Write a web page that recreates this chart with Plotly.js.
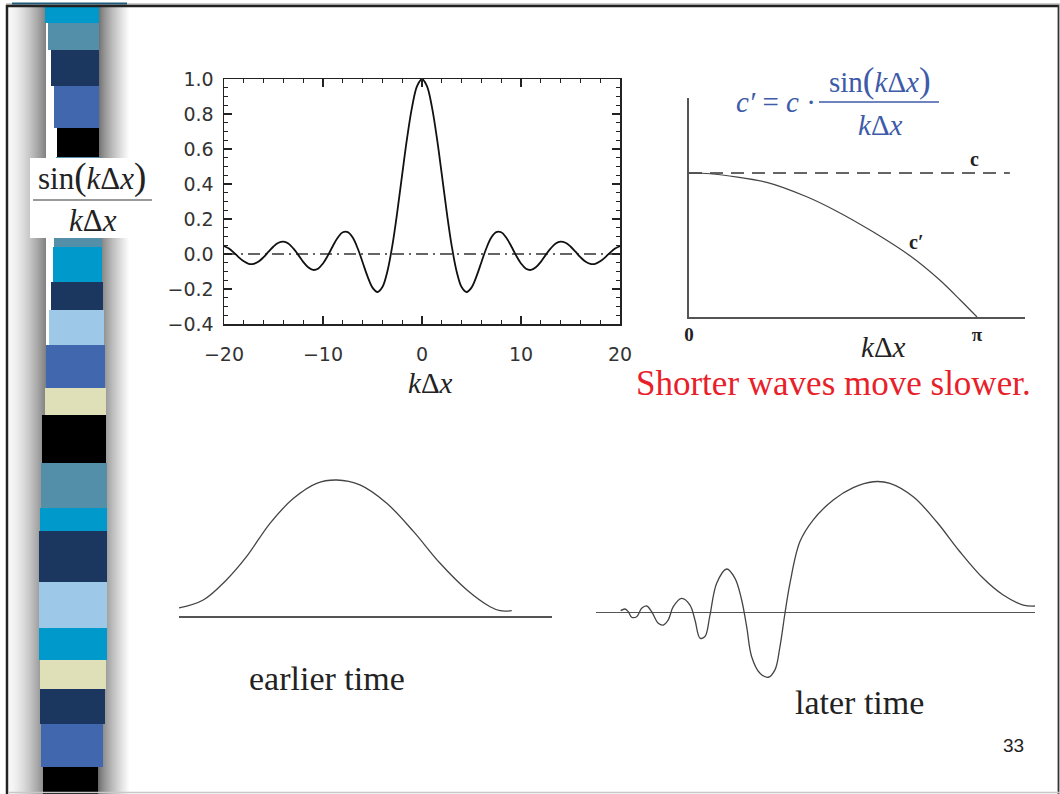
<!DOCTYPE html>
<html><head><meta charset="utf-8">
<script src="https://cdn.plot.ly/plotly-3.0.1.min.js"></script>
<style>html,body{margin:0;padding:0;background:#fff;}#chart{width:1060px;height:794px;}</style>
</head><body><div id="chart"></div>
<script>
// ---------- data: sinc panel ----------
const kDx = [-20,-19.5,-19,-18.5,-18,-17.5,-17,-16.5,-16,-15.5,-15,-14.5,-14,-13.5,-13,-12.5,-12,-11.5,-11,-10.5,-10,-9.5,-9,-8.5,-8,-7.5,-7,-6.5,-6,-5.5,-5,-4.5,-4,-3.5,-3,-2.5,-2,-1.5,-1,-0.5,0,0.5,1,1.5,2,2.5,3,3.5,4,4.5,5,5.5,6,6.5,7,7.5,8,8.5,9,9.5,10,10.5,11,11.5,12,12.5,13,13.5,14,14.5,15,15.5,16,16.5,17,17.5,18,18.5,19,19.5,20];
const sincVal = [0.046,0.031,0.008,-0.019,-0.042,-0.056,-0.056,-0.043,-0.018,0.013,0.043,0.064,0.071,0.060,0.032,-0.005,-0.045,-0.076,-0.091,-0.084,-0.054,-0.008,0.046,0.094,0.124,0.125,0.094,0.033,-0.047,-0.128,-0.192,-0.217,-0.189,-0.100,0.047,0.239,0.455,0.665,0.841,0.959,1.000,0.959,0.841,0.665,0.455,0.239,0.047,-0.100,-0.189,-0.217,-0.192,-0.128,-0.047,0.033,0.094,0.125,0.124,0.094,0.046,-0.008,-0.054,-0.084,-0.091,-0.076,-0.045,-0.005,0.032,0.060,0.071,0.064,0.043,0.013,-0.018,-0.043,-0.056,-0.056,-0.042,-0.019,0.008,0.031,0.046];
const zeroRefK = [-20, 20];
const zeroRefVal = [0, 0];
const sincXTicks = [-20, -10, 0, 10, 20];
const sincYTicks = [-0.4, -0.2, 0.0, 0.2, 0.4, 0.6, 0.8, 1.0];
const sincYTickText = ['\u22120.4', '\u22120.2', '0.0', '0.2', '0.4', '0.6', '0.8', '1.0'];

// ---------- data: phase speed panel ----------
const cPrimeK = [0, 0.229, 0.848, 1.284, 1.611, 2.011, 2.411, 2.738, 2.956, 3.1416];
const cPrimeVal = [1.0, 0.995, 0.935, 0.835, 0.735, 0.590, 0.425, 0.255, 0.120, 0.0];
const cK = [0, 3.50];
const cVal = [1, 1];
const phaseTickVals = [0, 3.1416];
const phaseTickText = ['<b>0</b>', '<b>\u03c0</b>'];

// ---------- data: wave packets ----------
const earlyX = [0.0, 0.65, 1.27, 1.81, 2.44, 3.07, 3.69, 4.23, 4.85, 5.57, 6.29, 7.00, 7.72, 8.34, 8.61, 8.92];
const earlyY = [0.066, 0.124, 0.270, 0.440, 0.684, 0.866, 0.976, 1.000, 0.964, 0.830, 0.623, 0.392, 0.197, 0.075, 0.046, 0.046];
const lateX = [0.670,0.786,0.874,0.965,1.099,1.233,1.367,1.501,1.678,1.812,1.946,2.080,2.306,2.528,2.662,2.796,2.930,3.064,3.244,3.512,3.735,3.914,4.048,4.182,4.405,4.627,4.807,4.941,5.075,5.209,5.477,5.834,6.370,6.906,7.442,7.890,8.515,9.142,9.767,10.391,10.928,11.464,11.778];
const lateY = [0.012,0.024,0.004,-0.036,-0.032,0.029,0.046,0.004,-0.080,-0.093,-0.056,0.041,0.102,0.053,-0.056,-0.188,-0.177,-0.020,0.212,0.316,0.248,0.090,-0.105,-0.324,-0.445,-0.474,-0.420,-0.250,-0.007,0.212,0.516,0.675,0.820,0.910,0.953,0.941,0.843,0.661,0.442,0.248,0.126,0.053,0.046];

// ---------- slide decoration (left stripe) ----------
const stripeTop    = [7, 23, 50, 86, 128, 157, 238, 247, 282, 310, 345, 388, 415, 463, 508, 531, 582, 628, 660, 689, 724, 767];
const stripeBottom = [23, 50, 86, 128, 157, 238, 247, 282, 310, 345, 388, 415, 463, 508, 531, 582, 628, 660, 689, 724, 767, 794];
const stripeLeft   = [45, 48, 51, 54, 57, 56, 54, 53, 51, 49, 46, 45, 42, 41, 40, 39, 39, 39, 40, 40, 41, 43];
const stripeRight  = [99, 99, 99, 99, 99, 101, 102, 102, 103, 104, 105, 106, 106, 107, 107, 107, 107, 107, 106, 105, 103, 98];
const stripeColor  = ['#0099cc','#548faa','#1b365f','#4167af','#000000','#548faa','#548faa','#0099cc','#1b365f','#9ec8e8','#4167af','#dfe0b8','#000000','#548faa','#0099cc','#1b365f','#9ec8e8','#0099cc','#dfe0b8','#1b365f','#4167af','#000000'];

const W = 1060, H = 794;
const px = x => x / W;
const py = y => 1 - y / H;

const serif = 'Liberation Serif, Times New Roman, serif';
const blue = '#3d5ba9';

const shapes = [];
// shadow gradient around stripe
for (let x = 9; x < 46; x++) {
  const t = (x - 9) / 36;
  const v = Math.round(247 - (247 - 130) * Math.pow(t, 1.5));
  shapes.push({type:'rect', xref:'paper', yref:'paper', x0:px(x), x1:px(x+1), y0:0, y1:py(7),
    fillcolor:`rgb(${v},${v},${v})`, line:{width:0}, layer:'below'});
}
for (let x = 98; x < 130; x++) {
  const t = (x - 98) / 31;
  const v = Math.min(255, Math.round(105 + (255 - 105) * Math.pow(t, 0.75)));
  shapes.push({type:'rect', xref:'paper', yref:'paper', x0:px(x), x1:px(x+1), y0:0, y1:py(7),
    fillcolor:`rgb(${v},${v},${v})`, line:{width:0}, layer:'below'});
}
for (let i = 0; i < stripeTop.length; i++) {
  shapes.push({type:'rect', xref:'paper', yref:'paper', x0:px(stripeLeft[i]), x1:px(stripeRight[i]),
    y0:py(stripeBottom[i]), y1:py(stripeTop[i]), fillcolor:stripeColor[i], line:{width:0}, layer:'below'});
}
// label box
shapes.push({type:'rect', xref:'paper', yref:'paper', x0:px(30), x1:px(152), y0:py(238), y1:py(158),
  fillcolor:'#ffffff', line:{width:0}, layer:'below'});
shapes.push({type:'line', xref:'paper', yref:'paper', x0:px(33), x1:px(152), y0:py(200), y1:py(200),
  line:{color:'#777', width:1.5}});
// formula fraction bar
shapes.push({type:'line', xref:'paper', yref:'paper', x0:px(819), x1:px(939), y0:py(102), y1:py(102),
  line:{color:blue, width:1.5}});
// slide frame
shapes.push({type:'line', xref:'paper', yref:'paper', x0:px(6), x1:px(1060), y0:py(4), y1:py(4), line:{color:'#999', width:1}});
shapes.push({type:'line', xref:'paper', yref:'paper', x0:px(12), x1:px(127), y0:py(3.5), y1:py(3.5), line:{color:'#1e5a78', width:2}});
shapes.push({type:'line', xref:'paper', yref:'paper', x0:px(6), x1:px(1059), y0:py(6), y1:py(6), line:{color:'#222', width:2.5}});
shapes.push({type:'line', xref:'paper', yref:'paper', x0:px(7), x1:px(7), y0:0, y1:py(5), line:{color:'#222', width:2.5}});
shapes.push({type:'line', xref:'paper', yref:'paper', x0:px(1058.5), x1:px(1058.5), y0:0, y1:py(5), line:{color:'#333', width:1.8}});
shapes.push({type:'line', xref:'paper', yref:'paper', x0:px(8), x1:px(1060), y0:py(792.5), y1:py(792.5), line:{color:'#c8c8c8', width:1.5}});

const ann = (text, x, y, size, color, family, extra) => Object.assign({
  text, xref:'paper', yref:'paper', x:px(x), y:py(y), xanchor:'center', yanchor:'middle',
  showarrow:false, font:{family: family || serif, size, color: color || '#222'}
}, extra || {});

const kdx = '<i>k</i>\u0394<i>x</i>';
const annotations = [
  ann('sin<span style="font-size:37px">(</span>' + kdx + '<span style="font-size:37px">)</span>', 92, 177, 31, '#222'),
  ann(kdx, 93, 220, 31, '#222'),
  ann(kdx, 430, 383, 29, '#222'),
  ann('<i>c\u2032</i> = <i>c</i> \u00b7', 776, 102, 29, blue),
  ann('sin<span style="font-size:35px">(</span>' + kdx + '<span style="font-size:35px">)</span>', 880, 80, 29, blue),
  ann(kdx, 880, 125, 29, blue),
  ann('<b>c</b>', 974, 159, 20, '#222'),
  ann('<b>c\u2032</b>', 916, 242, 20, '#222'),
  ann(kdx, 883, 347, 29, '#222'),
  ann('Shorter waves move slower.', 833, 383, 35, '#e8202a'),
  ann('earlier time', 327, 678, 34, '#222'),
  ann('later time', 859, 702, 34, '#222'),
  ann('33', 1013, 745, 19, '#222', 'Liberation Sans, Arial, sans-serif')
];

const traces = [
  {x:zeroRefK, y:zeroRefVal, xaxis:'x', yaxis:'y', mode:'lines', line:{color:'#333', width:1.3, dash:'12px,5px,2px,5px'}, hoverinfo:'skip'},
  {x:kDx, y:sincVal, xaxis:'x', yaxis:'y', mode:'lines', line:{color:'#111', width:1.8, shape:'spline', smoothing:1}},
  {x:cK, y:cVal, xaxis:'x2', yaxis:'y2', mode:'lines', line:{color:'#333', width:1.5, dash:'13px,8px'}},
  {x:cPrimeK, y:cPrimeVal, xaxis:'x2', yaxis:'y2', mode:'lines', line:{color:'#444', width:1.2, shape:'spline', smoothing:0.8}},
  {x:earlyX, y:earlyY, xaxis:'x3', yaxis:'y3', mode:'lines', line:{color:'#444', width:1.3, shape:'spline', smoothing:1}},
  {x:lateX, y:lateY, xaxis:'x4', yaxis:'y4', mode:'lines', line:{color:'#444', width:1.3, shape:'spline', smoothing:1}}
];

const tickFont = {family:'DejaVu Sans, sans-serif', size:19, color:'#333'};
const hidden = {showgrid:false, zeroline:false, showline:false, showticklabels:false, ticks:''};

const layout = {
  width:W, height:H, margin:{l:0, r:0, t:0, b:0},
  paper_bgcolor:'#ffffff', plot_bgcolor:'rgba(0,0,0,0)', showlegend:false,
  xaxis: {domain:[px(224), px(620)], range:[-20, 20], anchor:'y',
    tickmode:'array', tickvals:sincXTicks, ticks:'inside', ticklen:8, tickwidth:1.2, tickcolor:'#222',
    minor:{ticks:'inside', ticklen:4, dtick:2, tickcolor:'#222', tickwidth:1},
    showline:true, linecolor:'#222', linewidth:1.5, mirror:'ticks', showgrid:false, zeroline:false,
    tickfont:tickFont, ticklabelstandoff:13},
  yaxis: {domain:[py(324), py(79)], range:[-0.4, 1.0], anchor:'x',
    tickmode:'array', tickvals:sincYTicks, ticktext:sincYTickText, ticks:'inside', ticklen:8, tickwidth:1.2, tickcolor:'#222',
    minor:{ticks:'inside', ticklen:4, dtick:0.05, tickcolor:'#222', tickwidth:1},
    showline:true, linecolor:'#222', linewidth:1.5, mirror:'ticks', showgrid:false, zeroline:false,
    tickfont:tickFont, ticklabelstandoff:5},
  xaxis2: {domain:[px(689), px(1025)], range:[0, 3.665], anchor:'y2',
    tickmode:'array', tickvals:phaseTickVals, ticktext:phaseTickText, ticks:'',
    showline:true, linecolor:'#555', linewidth:1.6, showgrid:false, zeroline:false,
    tickfont:{family:serif, size:19, color:'#222'}, ticklabelstandoff:0},
  yaxis2: {domain:[py(317), py(98)], range:[0, 1.521], anchor:'x2',
    showline:true, linecolor:'#555', linewidth:1.6, showgrid:false, zeroline:false, showticklabels:false, ticks:''},
  xaxis3: Object.assign({domain:[px(179), px(552)], range:[0, 10], anchor:'y3'}, hidden),
  yaxis3: Object.assign({}, hidden, {domain:[py(644.4), py(466.3)], range:[-0.2, 1.1], anchor:'x3',
    zeroline:true, zerolinecolor:'#555', zerolinewidth:1.5}),
  xaxis4: Object.assign({domain:[px(595.7), px(1035)], range:[0, 11.78], anchor:'y4'}, hidden),
  yaxis4: Object.assign({}, hidden, {domain:[py(694.5), py(461.6)], range:[-0.6, 1.1], anchor:'x4',
    zeroline:true, zerolinecolor:'#555', zerolinewidth:1.5}),
  shapes, annotations
};

Plotly.newPlot('chart', traces, layout, {displayModeBar:false, staticPlot:true});
</script></body></html>
